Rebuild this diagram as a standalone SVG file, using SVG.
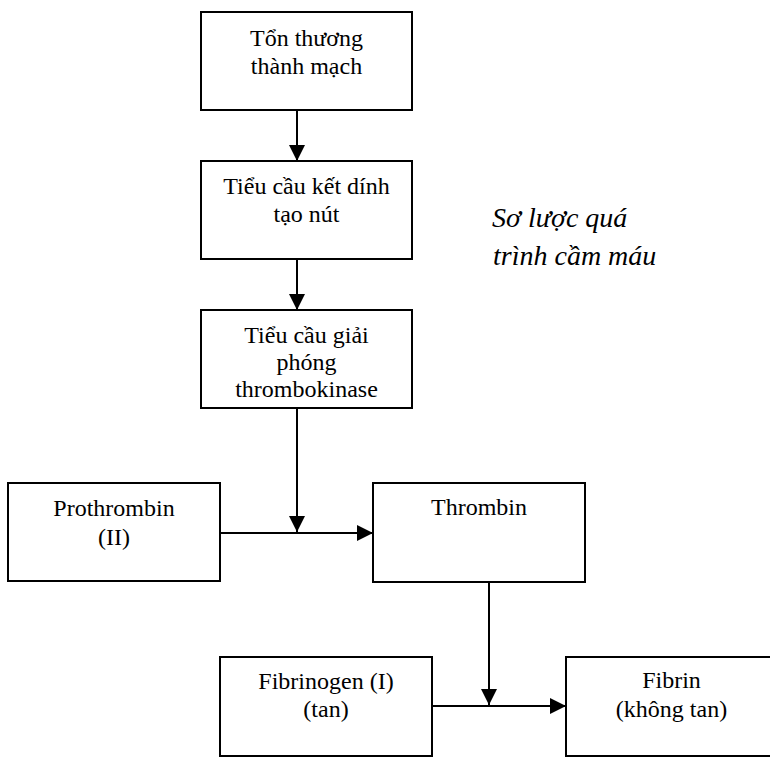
<svg xmlns="http://www.w3.org/2000/svg" width="770" height="758" viewBox="0 0 770 758">
  <style>
    .box { fill: #ffffff; stroke: #000000; stroke-width: 2; }
    .lbl { font-family: "Liberation Serif", "Times New Roman", serif; font-size: 24px; fill: #000000; text-anchor: middle; }
    .title { font-family: "Liberation Serif", "Times New Roman", serif; font-size: 28px; font-style: italic; fill: #000000; }
    .wire { fill: none; stroke: #000000; stroke-width: 2; }
  </style>
  <defs>
    <marker id="arrow" markerUnits="userSpaceOnUse" viewBox="0 0 16 16" refX="16" refY="8" markerWidth="16" markerHeight="16" orient="auto">
      <path d="M0,0 L16,8 L0,16 z" fill="#000000"/>
    </marker>
  </defs>
  <rect width="770" height="758" fill="#ffffff"/>

  <g id="n-ton-thuong">
    <rect class="box" x="201" y="12" width="211" height="98"/>
    <text class="lbl" x="306.5" y="46">Tổn thương</text>
    <text class="lbl" x="306.5" y="74">thành mạch</text>
  </g>

  <g id="n-ket-dinh">
    <rect class="box" x="201" y="161" width="211" height="98"/>
    <text class="lbl" x="306.5" y="194">Tiểu cầu kết dính</text>
    <text class="lbl" x="306.5" y="222">tạo nút</text>
  </g>

  <g id="n-giai-phong">
    <rect class="box" x="201" y="310" width="211" height="98"/>
    <text class="lbl" x="306.5" y="343">Tiểu cầu giải</text>
    <text class="lbl" x="306.5" y="370">phóng</text>
    <text class="lbl" x="306.5" y="397">thrombokinase</text>
  </g>

  <g id="n-prothrombin">
    <rect class="box" x="8" y="483" width="212" height="98"/>
    <text class="lbl" x="114" y="516">Prothrombin</text>
    <text class="lbl" x="114" y="545">(II)</text>
  </g>

  <g id="n-thrombin">
    <rect class="box" x="373" y="483" width="212" height="99"/>
    <text class="lbl" x="479" y="515">Thrombin</text>
  </g>

  <g id="n-fibrinogen">
    <rect class="box" x="220" y="657" width="212" height="99"/>
    <text class="lbl" x="326" y="689">Fibrinogen (I)</text>
    <text class="lbl" x="326" y="717">(tan)</text>
  </g>

  <g id="n-fibrin">
    <rect class="box" x="566" y="657" width="230" height="99"/>
    <text class="lbl" x="671.5" y="688">Fibrin</text>
    <text class="lbl" x="671.5" y="717">(không tan)</text>
  </g>

  <g id="caption">
    <text class="title" x="492" y="227">Sơ lược quá</text>
    <text class="title" x="493" y="265">trình cầm máu</text>
  </g>

  <g id="connectors">
    <line class="wire" x1="297" y1="110" x2="297" y2="161" marker-end="url(#arrow)"/>
    <line class="wire" x1="297" y1="259" x2="297" y2="310" marker-end="url(#arrow)"/>
    <line class="wire" x1="297" y1="408" x2="297" y2="532" marker-end="url(#arrow)"/>
    <line class="wire" x1="220" y1="533" x2="373" y2="533" marker-end="url(#arrow)"/>
    <line class="wire" x1="489" y1="582" x2="489" y2="705" marker-end="url(#arrow)"/>
    <line class="wire" x1="432" y1="706" x2="566" y2="706" marker-end="url(#arrow)"/>
  </g>
</svg>
